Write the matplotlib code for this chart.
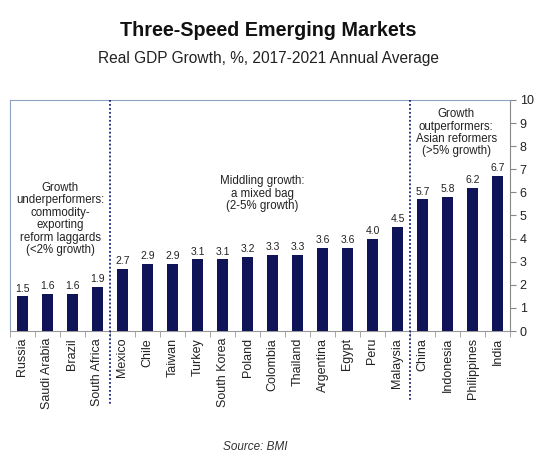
import matplotlib
matplotlib.use("Agg")
import matplotlib.pyplot as plt
import numpy as np

plt.rcParams['font.family'] = ['Liberation Sans', 'DejaVu Sans']

countries = ["Russia", "Saudi Arabia", "Brazil", "South Africa", "Mexico", "Chile", "Taiwan",
             "Turkey", "South Korea", "Poland", "Colombia", "Thailand", "Argentina", "Egypt",
             "Peru", "Malaysia", "China", "Indonesia", "Philippines", "India"]
growth = [1.5, 1.6, 1.6, 1.9, 2.7, 2.9, 2.9, 3.1, 3.1, 3.2, 3.3, 3.3, 3.6, 3.6, 4.0, 4.5,
          5.7, 5.8, 6.2, 6.7]
group_texts = ["Growth\nunderperformers:\ncommodity-\nexporting\nreform laggards\n(<2% growth)",
               "Middling growth:\na mixed bag\n(2-5% growth)",
               "Growth\noutperformers:\nAsian reformers\n(>5% growth)"]

fig = plt.figure(figsize=(5.5, 4.61), dpi=100)
ax = fig.add_axes([10/550, 1-331/461, 500/550, 231/461])
x = np.arange(len(countries))
ax.bar(x, growth, width=0.42, color="#0f1357", zorder=3)
for xi, v in zip(x, growth):
    ax.text(xi, v + 0.12, f"{v:.1f}", ha="center", va="bottom", fontsize=7.5, color="#222222")

ax.set_xlim(-0.5, len(countries) - 0.5)
ax.set_ylim(0, 10)
ax.yaxis.tick_right()
ax.set_yticks(range(0, 11))
ax.tick_params(axis="y", labelsize=9, length=4, color="#888888", labelcolor="#222222", pad=3)
ax.set_xticks(x)
ax.set_xticklabels(countries, rotation=90, fontsize=9, color="#222222")
ax.tick_params(axis="x", length=0, pad=5)
ax.set_xticks(np.arange(-0.5, len(countries), 1), minor=True)
ax.tick_params(axis="x", which="minor", length=4, color="#999999")
for s in ["left", "top"]:
    ax.spines[s].set_color("#8fa3c0")
    ax.spines[s].set_linewidth(0.8)
ax.spines["right"].set_color("#888888")
ax.spines["bottom"].set_color("#999999")
ax.spines["right"].set_linewidth(0.8)
ax.spines["bottom"].set_linewidth(0.8)

for bx, yb in [(3.5, -3.2), (15.5, -3.0)]:
    ax.plot([bx, bx], [10, yb], linestyle=(0, (1, 1.2)), color="#1a237e", linewidth=1.3,
            clip_on=False, zorder=4)

tkw = dict(ha="center", va="top", fontsize=8.3, color="#222222", linespacing=1.05)
ax.text(1.5, 6.45, group_texts[0], **tkw)
ax.text(9.6, 6.75, group_texts[1], **tkw)
ax.text(17.35, 9.65, group_texts[2], **tkw)

fig.text(268/550, 1-30/461, "Three-Speed Emerging Markets", ha="center", va="center",
         fontsize=14.2, fontweight="bold", color="#111111")
fig.text(268/550, 1-58/461, "Real GDP Growth, %, 2017-2021 Annual Average", ha="center", va="center",
         fontsize=11.2, color="#222222")
fig.text(255/550, 1-447/461, "Source: BMI", ha="center", va="center", fontsize=8.5,
         style="italic", color="#333333")

fig.savefig("out.png", dpi=100)
